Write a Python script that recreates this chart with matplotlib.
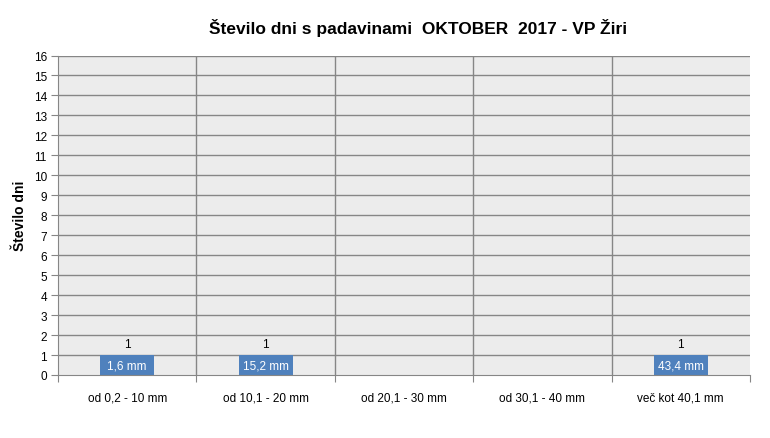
import matplotlib
matplotlib.use("Agg")
import matplotlib.pyplot as plt
import numpy as np

categories = ["od 0,2 - 10 mm", "od 10,1 - 20 mm", "od 20,1 - 30 mm", "od 30,1 - 40 mm", "več kot 40,1 mm"]
days = [1, 1, 0, 0, 1]
amounts = ["1,6 mm", "15,2 mm", "", "", "43,4 mm"]
yticks = list(range(0, 17))

plt.rcParams['font.family'] = ['Liberation Sans', 'DejaVu Sans']

fig = plt.figure(figsize=(7.7, 4.39), dpi=100)
ax = fig.add_axes([58/770, 63/439, 692/770, 319.5/439])
ax.set_facecolor("#ECECEC")

x = np.arange(len(categories))
gridc = "#868686"
ax.set_xlim(-0.5, len(categories) - 0.5)
ax.set_ylim(0, 16)
for y in yticks[1:]:
    ax.axhline(y, color=gridc, lw=1, zorder=1)
for b in np.arange(0.5, len(categories) - 0.5, 1):
    ax.axvline(b, color=gridc, lw=1, zorder=1)

for xi, d, a in zip(x, days, amounts):
    if d > 0:
        ax.bar(xi, d, width=0.39, color="#4F81BD", zorder=2)
        ax.text(xi, d / 2, a, ha="center", va="center", color="white", fontsize=8.5, zorder=3)
        ax.text(xi, d + 0.55, str(d), ha="center", va="center", color="black", fontsize=8.5, zorder=3)

for s in ["top", "right"]:
    ax.spines[s].set_visible(False)
ax.spines["left"].set_color(gridc)
ax.spines["bottom"].set_color(gridc)

ax.set_yticks(yticks)
ax.set_yticklabels([str(v) for v in yticks], fontsize=8.5)
ax.tick_params(axis="y", length=5, color=gridc, pad=3)
ax.set_xticks(np.arange(-0.5, len(categories), 1))
ax.set_xticklabels([])
ax.set_xticks(x, minor=True)
ax.set_xticklabels(categories, minor=True, fontsize=8.5)
ax.tick_params(axis="x", which="major", length=5, color=gridc)
ax.tick_params(axis="x", which="minor", length=0, pad=12)

ax.set_ylabel("Število dni", fontsize=10, fontweight="bold", labelpad=5)
fig.text(418/770, 1 - 28/439, "Število dni s padavinami  OKTOBER  2017 - VP Žiri",
         ha="center", va="center", fontsize=12.5, fontweight="bold")

fig.savefig("out.png", dpi=100)
